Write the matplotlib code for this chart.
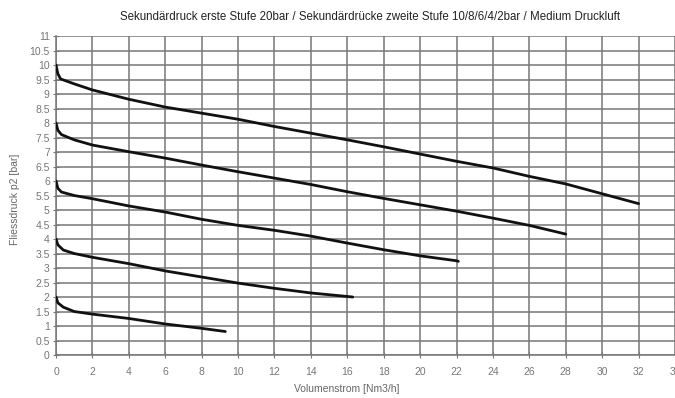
import numpy as np
import matplotlib
matplotlib.use('Agg')
import matplotlib.pyplot as plt

plt.rcParams['font.family'] = ['Liberation Sans', 'DejaVu Sans']

# flow rate [Nm3/h] and outlet pressure [bar] for each second-stage setting
x_10 = [0, 0.1, 0.25, 1, 2, 4, 6, 8, 10, 12, 14, 16, 18, 20, 22, 24, 26, 28, 30, 32]
p_10 = [10.0, 9.7, 9.52, 9.35, 9.14, 8.82, 8.55, 8.34, 8.13, 7.88, 7.65, 7.42, 7.18, 6.93, 6.68, 6.45, 6.16, 5.9, 5.56, 5.22]

x_8 = [0, 0.1, 0.3, 1, 2, 4, 6, 8, 10, 12, 14, 16, 18, 20, 22, 24, 26, 28]
p_8 = [8.0, 7.75, 7.6, 7.42, 7.24, 7.01, 6.79, 6.55, 6.32, 6.1, 5.88, 5.63, 5.4, 5.18, 4.96, 4.72, 4.47, 4.17]

x_6 = [0, 0.1, 0.3, 1, 2, 4, 6, 8, 10, 12, 14, 16, 18, 20, 22, 22.1]
p_6 = [6.0, 5.75, 5.62, 5.5, 5.39, 5.14, 4.93, 4.68, 4.47, 4.3, 4.1, 3.86, 3.63, 3.42, 3.25, 3.23]

x_4 = [0, 0.1, 0.4, 1, 2, 4, 6, 8, 10, 12, 14, 16.3]
p_4 = [4.0, 3.8, 3.62, 3.5, 3.37, 3.15, 2.9, 2.69, 2.48, 2.3, 2.14, 2.0]

x_2 = [0, 0.1, 0.4, 1, 2, 4, 6, 8, 9.3]
p_2 = [2.0, 1.8, 1.65, 1.5, 1.41, 1.26, 1.07, 0.92, 0.81]

curves = [(x_10, p_10), (x_8, p_8), (x_6, p_6), (x_4, p_4), (x_2, p_2)]

x_ticks = np.arange(0, 35, 2)
y_ticks = np.arange(0, 11.5, 0.5)

fig = plt.figure(figsize=(6.75, 3.98), dpi=100)
ax = fig.add_axes([0.083, 0.108, 0.917, 0.8015])

for xs, ps in curves:
    ax.plot(xs, ps, color='#111111', lw=2.0, solid_capstyle='round',
            solid_joinstyle='round', zorder=3)

ax.set_xlim(0, 34)
ax.set_ylim(0, 11)
ax.set_xticks(x_ticks)
ax.set_yticks(y_ticks)
ax.set_xticklabels([str(v) for v in x_ticks])
ax.set_yticklabels([('%g' % v) for v in y_ticks])
ax.grid(True, color='#777777', lw=1.1)
ax.set_axisbelow(True)

for s in ['top', 'right']:
    ax.spines[s].set_visible(False)
for s in ['left', 'bottom']:
    ax.spines[s].set_color('#777777')
    ax.spines[s].set_linewidth(1.1)

ax.tick_params(axis='both', direction='inout', length=5, color='#777777',
               labelcolor='#777777', labelsize=7.5)
ax.tick_params(axis='x', pad=6)
ax.tick_params(axis='y', pad=2)

fig.text(0.548, 0.957, 'Sekundärdruck erste Stufe 20bar / Sekundärdrücke zweite Stufe 10/8/6/4/2bar / Medium Druckluft',
         ha='center', va='center', fontsize=8.3, color='#222222')
fig.text(0.514, 0.022, 'Volumenstrom [Nm3/h]', ha='center', va='center',
         fontsize=7.5, color='#666666')
fig.text(0.022, 0.5, 'Fliessdruck p2 [bar]', ha='center', va='center',
         rotation=90, fontsize=7.5, color='#666666')

fig.savefig('out.png', dpi=100)
